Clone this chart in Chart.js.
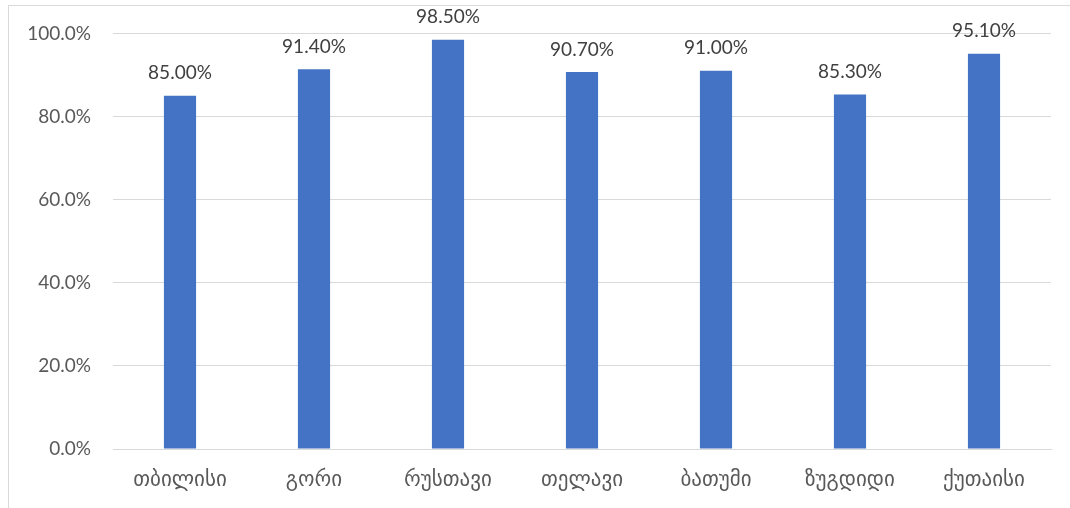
<!DOCTYPE html>
<html>
<head>
<meta charset="utf-8">
<script src="https://cdn.jsdelivr.net/npm/chart.js@4"></script>
<style>
    html, body { margin: 0; padding: 0; background: #fff; overflow: hidden; }
    #frame { position: absolute; left: 8px; top: 5px; width: 1080px; height: 520px; border: 1px solid #d9d9d9; }
    #wrap { position: absolute; left: 0; top: 0; width: 1070px; height: 508px; }
</style>
</head>
<body>
<div id="frame"></div>
<div id="wrap"><canvas id="cityChart"></canvas></div>
<script>
const cities = ["თბილისი", "გორი", "რუსთავი", "თელავი", "ბათუმი", "ზუგდიდი", "ქუთაისი"];
const shares = [85.0, 91.4, 98.5, 90.7, 91.0, 85.3, 95.1];
const yTicks = [0, 20, 40, 60, 80, 100];

const FONT = "Lato, 'DejaVu Sans', sans-serif";

// value labels above each bar
const barLabels = {
    id: "barLabels",
    afterDatasetsDraw(chart) {
        const ctx = chart.ctx;
        const meta = chart.getDatasetMeta(0);
        ctx.save();
        ctx.font = "19px " + FONT;
        ctx.fillStyle = "#404040";
        ctx.textAlign = "center";
        ctx.textBaseline = "bottom";
        meta.data.forEach((bar, i) => {
            ctx.fillText(shares[i].toFixed(2) + "%", bar.x, bar.y - 13);
        });
        ctx.restore();
    }
};

new Chart(document.getElementById("cityChart"), {
    type: "bar",
    data: {
        labels: cities,
        datasets: [{
            data: shares,
            backgroundColor: "#4472C4",
            barPercentage: 0.24,
            categoryPercentage: 1
        }]
    },
    options: {
        responsive: true,
        maintainAspectRatio: false,
        animation: false,
        layout: { padding: { top: 33, right: 19, left: 0, bottom: 0 } },
        plugins: { legend: { display: false }, tooltip: { enabled: false } },
        scales: {
            x: {
                grid: { display: false, drawTicks: false },
                border: { color: "#d9d9d9", width: 1 },
                ticks: { color: "#595959", font: { size: 21, family: FONT }, padding: 18 },
                afterFit(scale) { scale.height = 59; }
            },
            y: {
                min: 0,
                max: 100,
                afterBuildTicks(scale) { scale.ticks = yTicks.map(v => ({ value: v })); },
                grid: { color: "#d9d9d9", drawTicks: false },
                border: { display: false },
                ticks: {
                    color: "#595959",
                    font: { size: 19, family: FONT },
                    padding: 22,
                    callback: v => v.toFixed(1) + "%"
                },
                afterFit(scale) { scale.width = 113; }
            }
        }
    },
    plugins: [barLabels]
});
</script>
</body>
</html>
